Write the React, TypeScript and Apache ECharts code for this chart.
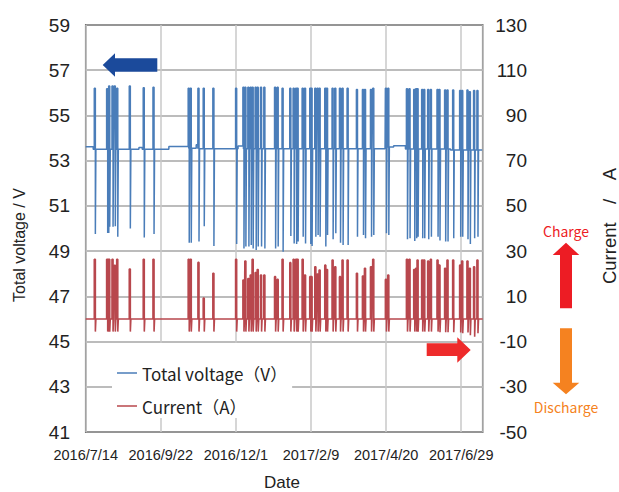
import React, { useEffect, useRef } from "react";
import * as echarts from "echarts";

// ---- data ----
const xTickLabels = ["2016/7/14", "2016/9/22", "2016/12/1", "2017/2/9", "2017/4/20", "2017/6/29"];
const legendNames = ["Total voltage（V）", "Current（A）"];

// day offsets from 2016/7/14 of each charge / discharge event
const eventDays = [
  8, 19.5, 20.5, 21.4, 24.5, 26.6, 28.9, 40.6, 53.6, 62.7,
  95.5, 97.4, 104.6, 109.5, 118.5, 139.7, 146.5, 148.3, 151.1, 153.3, 155.1, 157.9, 159.8, 162.9, 166, 176, 178.4, 183,
  190.2, 193.3, 195.6, 197, 201.7, 203.9, 208.8, 210, 213.5, 215.6, 217.5, 222.8, 224.4, 229.6, 232.1, 236.5, 238.9, 243.6, 252.3, 257.9, 259.8, 265.4, 267.5,
  279.3, 281.5, 298.9, 301.3, 305.7, 307.5, 308.8, 313.1, 315, 318.7, 321.2, 327.4, 329.2, 334.5, 336.7, 342, 348.5, 350.4, 355.3, 357.5, 361.5, 364.6,
];
const voltageHigh = [
  56.2, 56.18, 56.18, 56.3, 56.3, 56.3, 56.2, 56.3, 56.22, 56.25,
  56.2, 56.2, 56.2, 56.2, 56.2, 56.2, 56.25, 56.25, 56.25, 56.25, 56.25, 56.25, 56.25, 56.25, 56.25, 56.25, 56.25, 56.2,
  56.2, 56.2, 56.2, 56.2, 56.2, 56.2, 56.2, 56.2, 56.2, 56.2, 56.2, 56.2, 56.2, 56.2, 56.2, 56.2, 56.2, 56.2, 56.15, 56.15, 56.15, 56.15, 56.2,
  56.2, 56.2, 56.18, 56.18, 56.15, 56.18, 56.18, 56.15, 56.15, 56.15, 56.15, 56.15, 56.15, 56.12, 56.12, 56.12, 56.1, 56.1, 56.12, 56.05, 56.1, 56.1,
];
const voltageLow = [
  49.76, 49.8, 49.8, 50.08, 50.08, 50.1, 49.64, 50.0, 49.6, 49.76,
  49.37, 49.37, 49.42, 50.1, 49.23, 49.31, 49.12, 49.2, 49.2, 49.27, 49.12, 49.05, 49.2, 49.2, 49.12, 49.12, 49.2, 48.97,
  49.67, 49.34, 49.31, 49.42, 49.64, 49.34, 49.31, 49.23, 49.64, 49.71, 49.64, 49.2, 49.71, 49.52, 49.79, 49.37, 49.27, 49.27, 49.64, 49.71, 49.57, 49.64, 49.71,
  49.79, 49.71, 49.52, 49.57, 49.45, 49.57, 49.64, 49.57, 49.57, 49.52, 49.64, 49.64, 49.47, 49.42, 49.42, 49.57, 49.64, 49.64, 49.52, 49.31, 49.57, 49.64,
];
const currentHigh = [
  26.4, 26.4, 26.4, 26.4, 26.4, 23.7, 26.4, 22.1, 26.4, 26.4,
  26.4, 26.4, 25.0, 9.2, 20.2, 26.4, 17.2, 25.6, 17.9, 19.4, 26.4, 20.5, 21.9, 19.4, 19.4, 18.7, 17.5, 26.4,
  24.9, 26.4, 26.4, 26.4, 26.4, 19.4, 18.7, 18.7, 23.1, 19.8, 21.6, 23.8, 21.9, 26.1, 23.1, 18.7, 26.1, 26.1, 20.2, 19.0, 22.4, 23.1, 26.4,
  17.5, 19.4, 26.4, 26.4, 21.9, 22.4, 26.1, 26.1, 26.1, 25.6, 26.4, 26.1, 23.8, 22.4, 26.1, 26.1, 23.8, 25.6, 25.6, 22.4, 23.1, 26.1,
];
const currentLow = [
  -5.6, -5.6, -5.6, -5.6, -5.6, -5.6, -5.6, -5.6, -5.6, -5.6,
  -5.6, -5.6, -5.6, -5.6, -5.6, -5.6, -5.6, -5.6, -5.6, -5.6, -5.6, -5.6, -5.6, -5.6, -5.6, -5.6, -5.6, -5.6,
  -5.6, -5.6, -5.6, -5.6, -5.6, -5.6, -5.6, -5.6, -5.6, -5.6, -5.6, -5.6, -5.6, -5.6, -5.6, -5.6, -5.6, -5.6, -5.6, -5.6, -5.6, -5.6, -5.6,
  -5.6, -5.6, -5.6, -5.6, -5.6, -5.6, -5.6, -5.6, -5.6, -5.6, -5.6, -5.6, -5.9, -5.9, -5.9, -5.9, -6.0, -6.3, -6.0, -7.2, -7.9, -6.3,
];
// resting voltage level changes
const baselineDays = [0, 7, 49.6, 52.7, 77.5, 96, 103, 104.5, 142, 147, 279, 287, 298, 340];
const baselineVolts = [53.62, 53.5, 53.58, 53.5, 53.63, 53.55, 53.7, 53.53, 53.65, 53.53, 53.6, 53.66, 53.52, 53.47];

const BLUE = "#4a7db9";
const RED = "#b8474d";
const TXT = "#222";
const NUM_FONT = '"Liberation Sans", Arial, sans-serif';
const TEXT_FONT = '"Noto Sans CJK JP", "Liberation Sans", sans-serif';
const RIGHT_FONT = '"Liberation Sans", "Noto Sans CJK JP", sans-serif';

function buildSeries() {
  const items: { d: number; kind: string; i: number }[] = [];
  baselineDays.forEach((d, i) => { if (i > 0) items.push({ d, kind: "b", i }); });
  eventDays.forEach((d, i) => items.push({ d, kind: "e", i }));
  items.sort((a, b) => a.d - b.d);
  let base = baselineVolts[0];
  const v: number[][] = [[0, base]];
  const c: number[][] = [[0, 0]];
  const w = 1.0;
  const w2 = 0.5;
  for (const it of items) {
    if (it.kind === "b") {
      v.push([it.d, base]);
      base = baselineVolts[it.i];
      v.push([it.d, base]);
    } else {
      const d = it.d;
      const i = it.i;
      v.push([d, base], [d, voltageHigh[i]], [d + w, voltageHigh[i]], [d + w, voltageLow[i]], [d + w + w2, voltageLow[i]], [d + w + w2, base]);
      c.push([d, 0], [d, currentHigh[i]], [d + w, currentHigh[i]], [d + w, currentLow[i]], [d + w + w2, currentLow[i]], [d + w + w2, 0]);
    }
  }
  v.push([369.5, base]);
  c.push([370, 0]);
  return { v, c };
}

export default function App() {
  const ref = useRef<HTMLDivElement>(null);
  useEffect(() => {
    if (!ref.current) return;
    const chart = echarts.init(ref.current, undefined, { renderer: "svg" });
    const { v, c } = buildSeries();
    chart.setOption({
      animation: false,
      backgroundColor: "#fff",
      grid: {
        left: 85.7, top: 25, right: 136.3, bottom: 60,
        show: true, borderColor: "#333", borderWidth: 1.5, backgroundColor: "transparent",
      },
      xAxis: {
        type: "value", min: 0, max: 370, interval: 70,
        axisLine: { show: false }, axisTick: { show: false },
        splitLine: { show: true, lineStyle: { color: "#c8c8c8", width: 1.5 } },
        axisLabel: {
          margin: 15, fontSize: 14.5, color: TXT, fontFamily: NUM_FONT,
          formatter: (val: number) => (val % 70 === 0 ? xTickLabels[val / 70] || "" : ""),
        },
      },
      yAxis: [
        {
          type: "value", min: 41, max: 59, interval: 2, position: "left",
          axisLine: { show: false }, axisTick: { show: false },
          splitLine: { show: true, lineStyle: { color: "#a6a6a6", width: 1.5 } },
          axisLabel: { margin: 15.7, fontSize: 19, color: TXT, fontFamily: NUM_FONT },
        },
        {
          type: "value", min: -50, max: 130, interval: 20, position: "right",
          axisLine: { show: false }, axisTick: { show: false },
          splitLine: { show: false },
          axisLabel: { margin: 44.3, align: "right", fontSize: 19, color: TXT, fontFamily: NUM_FONT },
        },
      ],
      legend: {
        orient: "vertical", left: 112, top: 343,
        backgroundColor: "#fff", padding: [20, 5, 2, 5],
        itemWidth: 20, itemHeight: 1.5, itemGap: 13, icon: "rect",
        textStyle: { fontSize: 17, color: TXT, fontFamily: TEXT_FONT, lineHeight: 20 },
        data: legendNames,
      },
      series: [
        {
          type: "line", name: legendNames[0], yAxisIndex: 0, data: v, symbol: "none",
          lineStyle: { width: 1.5, color: BLUE }, itemStyle: { color: BLUE }, z: 3,
        },
        {
          type: "line", name: legendNames[1], yAxisIndex: 1, data: c, symbol: "none",
          lineStyle: { width: 1.6, color: RED }, itemStyle: { color: RED }, z: 2,
        },
      ],
      graphic: [
        {
          type: "polygon", z: 10,
          shape: { points: [[102.7, 65], [115, 53.3], [115, 58.3], [157.3, 58.3], [157.3, 71.7], [115, 71.7], [115, 76.7]] },
          style: { fill: "#1b4a9b" },
        },
        {
          type: "polygon", z: 10,
          shape: { points: [[426.7, 343.3], [457.3, 343.3], [457.3, 337.3], [470.7, 350], [457.3, 362.7], [457.3, 356], [426.7, 356]] },
          style: { fill: "#ee2b2b" },
        },
        {
          type: "polygon", z: 10,
          shape: { points: [[566, 242.7], [579.3, 255], [572, 255], [572, 308.3], [560, 308.3], [560, 255], [552.7, 255]] },
          style: { fill: "#ed1c24" },
        },
        {
          type: "polygon", z: 10,
          shape: { points: [[560, 328.3], [572, 328.3], [572, 382.7], [579.3, 382.7], [566, 394.3], [552.7, 382.7], [560, 382.7]] },
          style: { fill: "#f58220" },
        },
        {
          type: "text", x: 566, y: 230.7, z: 10,
          style: { text: "Charge", fill: "#ed1c24", fontSize: 14, fontFamily: TEXT_FONT, align: "center", verticalAlign: "middle" },
        },
        {
          type: "text", x: 566, y: 407.3, z: 10,
          style: { text: "Discharge", fill: "#f58220", fontSize: 14, fontFamily: TEXT_FONT, align: "center", verticalAlign: "middle" },
        },
        {
          type: "text", x: 19.5, y: 245, rotation: Math.PI / 2, z: 10,
          style: { text: "Total voltage / V", fill: TXT, fontSize: 16, fontFamily: NUM_FONT, align: "center", verticalAlign: "middle" },
        },
        {
          type: "text", x: 609, y: 226, rotation: Math.PI / 2, z: 10,
          style: { text: "Current　/　A", fill: TXT, fontSize: 18.5, fontFamily: RIGHT_FONT, align: "center", verticalAlign: "middle" },
        },
        {
          type: "text", x: 282, y: 482, z: 10,
          style: { text: "Date", fill: TXT, fontSize: 17, fontFamily: NUM_FONT, align: "center", verticalAlign: "middle" },
        },
      ],
    });
    return () => chart.dispose();
  }, []);
  return <div ref={ref} style={{ position: "fixed", left: 0, top: 0, width: 619, height: 492 }} />;
}
